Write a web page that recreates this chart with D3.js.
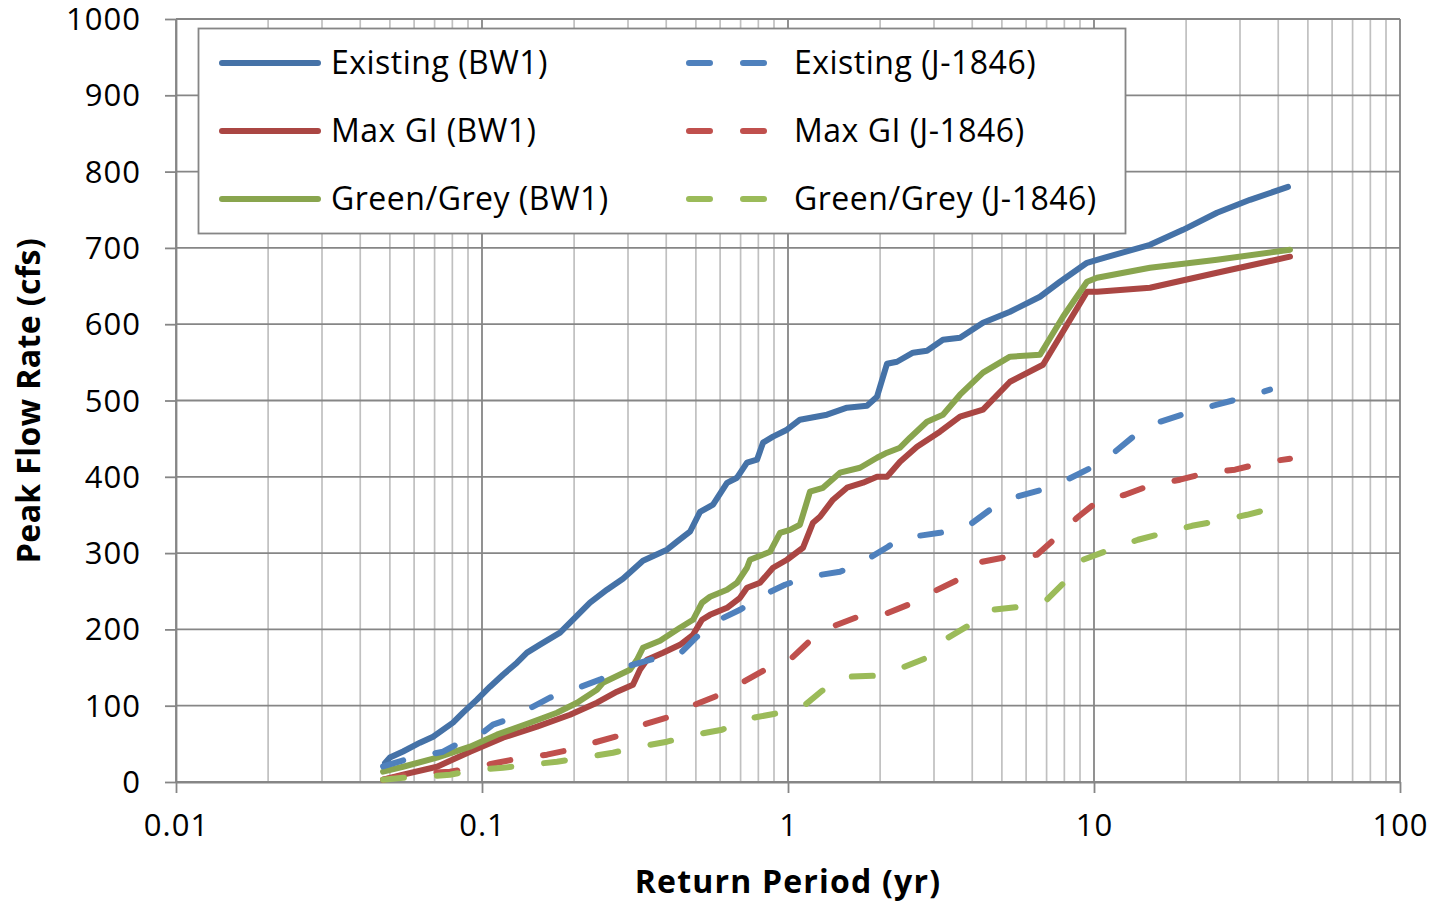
<!DOCTYPE html>
<html>
<head>
<meta charset="utf-8">
<script src="https://cdn.jsdelivr.net/npm/d3@7"></script>
<style>
  html, body { margin: 0; padding: 0; background: #fff; }
  svg { display: block; font-family: "Open Sans", "Noto Sans", sans-serif; }
</style>
</head>
<body>
<svg id="chart" width="1436" height="904"></svg>
<script>
// Peak flow frequency curves: [return period (yr), peak flow (cfs)]
const existingBW1 = [
  [0.0482, 25], [0.050, 32], [0.0552, 40], [0.0627, 51.5], [0.0692, 59.4], [0.0804, 77.8],
  [0.0867, 90.9], [0.0963, 107.9], [0.1062, 124.9], [0.1171, 140.6], [0.1301, 156.4],
  [0.1403, 169.5], [0.1547, 180], [0.1799, 195.7], [0.1984, 212.8], [0.2254, 235],
  [0.2561, 252], [0.2888, 266.5], [0.3357, 290], [0.4024, 304.5], [0.4339, 315],
  [0.4783, 328], [0.5158, 354], [0.5688, 363.4], [0.632, 392], [0.6815, 398.8],
  [0.7345, 418.5], [0.792, 422.4], [0.8285, 444.7], [0.8934, 452.6], [0.9924, 461.7],
  [1.094, 474.8], [1.341, 481.4], [1.559, 490.6], [1.812, 493.2], [1.954, 505],
  [2.107, 548.2], [2.271, 550.8], [2.561, 562.6], [2.846, 565.2], [3.209, 579.6],
  [3.649, 582.3], [4.338, 601.9], [5.315, 616.3], [6.66, 636], [7.743, 655.6],
  [9.487, 680.5], [10.23, 684.4], [15.24, 704.1], [19.54, 723.7], [25.23, 746],
  [32.35, 763], [43.05, 780]
];
const maxGiBW1 = [
  [0.0475, 3], [0.0552, 9.6], [0.0713, 20], [0.0914, 39.7], [0.1171, 58], [0.1513, 72.5],
  [0.194, 88.2], [0.2375, 103.9], [0.2761, 118.3], [0.3114, 127.5], [0.3282, 147.1],
  [0.346, 160.2], [0.3905, 169.4], [0.4437, 179.8], [0.4892, 192.9], [0.5236, 212.6],
  [0.5561, 219.1], [0.632, 228.3], [0.697, 241.4], [0.7345, 254.5], [0.81, 261.1],
  [0.8934, 280.8], [0.9924, 291.3], [1.119, 307], [1.207, 339.8], [1.272, 347.7],
  [1.403, 370], [1.559, 385.7], [1.759, 392.3], [1.954, 400.1], [2.107, 400.1],
  [2.323, 419.8], [2.64, 439.5], [3.137, 459.1], [3.649, 478.8], [4.338, 488],
  [5.315, 524.6], [6.813, 546.9], [9.487, 642.6], [10.23, 642.6], [15.24, 647.8],
  [25.23, 667.5], [43.7, 688.5]
];
const greenGreyBW1 = [
  [0.0475, 13.5], [0.0552, 20], [0.0713, 31.9], [0.0914, 46.3], [0.1119, 62], [0.1435, 77.7],
  [0.1758, 90.8], [0.2045, 103.9], [0.2375, 120.9], [0.2484, 130.1], [0.3045, 147.1],
  [0.3209, 160.2], [0.3357, 175.9], [0.3818, 185.1], [0.4437, 202.2], [0.4892, 212.6],
  [0.5236, 234.9], [0.5561, 242.8], [0.632, 252], [0.6815, 261.1], [0.7345, 280.8],
  [0.7513, 291.3], [0.8734, 301.7], [0.9417, 326.6], [1.015, 330.5], [1.094, 337.2],
  [1.18, 380.5], [1.301, 385.6], [1.479, 405.4], [1.719, 411.9], [1.954, 425],
  [2.107, 431.6], [2.323, 438.1], [2.504, 451.2], [2.846, 472.2], [3.209, 481.4],
  [3.649, 507.6], [4.338, 536.5], [5.315, 557.4], [6.66, 560], [7.92, 609.8],
  [9.487, 655.6], [10.23, 660.9], [15.24, 674], [25.23, 684.5], [43.7, 697.6]
];
const existingJ1846 = [
  [0.0475, 20.4], [0.0595, 32.1], [0.0746, 39.7], [0.0847, 51.5], [0.0985, 62], [0.1086, 75.1],
  [0.1207, 81.6], [0.1403, 94.7], [0.1668, 110.5], [0.1984, 121], [0.2429, 134.1],
  [0.2888, 149.8], [0.354, 160.2], [0.4339, 164.2], [0.5042, 190.4], [0.5688, 208.7],
  [0.697, 225.7], [0.81, 242.8], [0.9777, 258.5], [1.163, 269], [1.479, 275.5],
  [1.759, 288.6], [2.123, 308.3], [2.323, 320.1], [2.542, 321.4], [3.137, 326.6],
  [3.846, 334.5], [4.573, 356.8], [5.436, 372.6], [6.762, 383], [8.163, 396.2],
  [9.925, 413.2], [11.71, 432.9], [13.93, 457.8], [16.44, 472.2], [20.29, 484],
  [25.23, 494.5], [30.69, 503.7], [37.61, 514.2]
];
const maxGiJ1846 = [
  [0.0475, 3], [0.0595, 10.9], [0.0786, 13.5], [0.0935, 18.7], [0.1119, 25.3], [0.1362, 31.8],
  [0.1631, 35.8], [0.194, 42.3], [0.2254, 50.2], [0.2888, 62], [0.3357, 75.1],
  [0.4116, 85.6], [0.4857, 100], [0.5996, 114.5], [0.7077, 130.2], [0.854, 148.5],
  [1.015, 160.3], [1.18, 185.1], [1.393, 203.5], [1.694, 216.6], [2.045, 219.1],
  [2.561, 234.8], [2.978, 249.2], [3.704, 267.6], [4.305, 288.6], [5.236, 295.2],
  [6.511, 297.8], [7.57, 321.4], [8.8, 346.3], [10.23, 367.3], [12.63, 376.5],
  [15.47, 389.6], [19.1, 396.2], [23.4, 405.4], [28.9, 409.3], [35.68, 418.5], [43.7, 423.7]
];
const greenGreyJ1846 = [
  [0.0475, 3], [0.0552, 5.6], [0.0661, 6.9], [0.0786, 9.6], [0.0963, 16.1], [0.1171, 18.7],
  [0.1435, 22.7], [0.1758, 26.6], [0.2138, 31.8], [0.2679, 38.4], [0.3282, 46.3],
  [0.4024, 52.8], [0.4967, 62], [0.6086, 68.5], [0.7401, 82.9], [0.9067, 89.5],
  [1.119, 98.7], [1.292, 119.6], [1.559, 138], [1.925, 139.3], [2.358, 149.8],
  [2.846, 162.9], [3.333, 189.1], [3.934, 206.2], [4.677, 225.8], [5.817, 229.8],
  [7.022, 239], [8.163, 265.2], [9.206, 291.3], [11.28, 304.4], [13.93, 317.5],
  [17.06, 326.6], [20.91, 335.8], [25.81, 342.4], [31.62, 350.2], [39.05, 359.5]
];

const seriesNames = [
  "Existing (BW1)", "Max GI (BW1)", "Green/Grey (BW1)",
  "Existing (J-1846)", "Max GI (J-1846)", "Green/Grey (J-1846)"
];
const seriesData = [existingBW1, maxGiBW1, greenGreyBW1, existingJ1846, maxGiJ1846, greenGreyJ1846];
const seriesColors = ["#4572A7", "#AA4643", "#89A54E", "#4F81BD", "#C0504D", "#9BBB59"];
const seriesDashed = [false, false, false, true, true, true];

const yTicks = [0, 100, 200, 300, 400, 500, 600, 700, 800, 900, 1000];
const xTicks = [0.01, 0.1, 1, 10, 100];
const xTickLabels = ["0.01", "0.1", "1", "10", "100"];
const xTitle = "Return Period (yr)";
const yTitle = "Peak Flow Rate (cfs)";

const svg = d3.select("#chart");
const plot = { left: 176, right: 1400, top: 19, bottom: 782 };

const x = d3.scaleLog().domain([0.01, 100]).range([plot.left, plot.right]);
const y = d3.scaleLinear().domain([0, 1000]).range([plot.bottom, plot.top]);

const majorColor = "#868686";
const minorColor = "#C0C0C0";

// minor vertical gridlines (2..9 within each decade)
const minorX = [];
for (let d = 0.01; d < 100; d *= 10) {
  for (let k = 2; k <= 9; k++) minorX.push(d * k);
}
const grid = svg.append("g");
grid.selectAll(".minor").data(minorX).join("line")
  .attr("x1", d => x(d)).attr("x2", d => x(d))
  .attr("y1", plot.top).attr("y2", plot.bottom)
  .attr("stroke", minorColor).attr("stroke-width", 1.7);

// major gridlines
grid.selectAll(".hmajor").data(yTicks).join("line")
  .attr("x1", plot.left).attr("x2", plot.right)
  .attr("y1", d => y(d)).attr("y2", d => y(d))
  .attr("stroke", majorColor).attr("stroke-width", 1.8);
grid.selectAll(".vmajor").data(xTicks).join("line")
  .attr("x1", d => x(d)).attr("x2", d => x(d))
  .attr("y1", plot.top).attr("y2", plot.bottom)
  .attr("stroke", majorColor).attr("stroke-width", 1.8);

// axes
const yAxis = d3.axisLeft(y).tickValues(yTicks).tickFormat(d3.format("d"))
  .tickSize(11).tickSizeOuter(0).tickPadding(24);
const gy = svg.append("g").attr("transform", `translate(${plot.left},0)`).call(yAxis);
const xAxis = d3.axisBottom(x).tickValues(xTicks).tickFormat((d, i) => xTickLabels[i])
  .tickSize(11).tickSizeOuter(0).tickPadding(21);
const gx = svg.append("g").attr("transform", `translate(0,${plot.bottom})`).call(xAxis);
[gx, gy].forEach(g => {
  g.select(".domain").attr("stroke", majorColor).attr("stroke-width", 1.8);
  g.selectAll(".tick line").attr("stroke", majorColor).attr("stroke-width", 1.8);
  g.selectAll(".tick text").attr("fill", "#000").style("font-size", "31px")
    .style("letter-spacing", "1px")
    .style("font-family", '"Open Sans", sans-serif');
});
gy.selectAll(".tick text").attr("dy", "0.34em");

// series lines
const line = d3.line().x(d => x(d[0])).y(d => y(d[1]));
const lines = svg.append("g");
seriesData.forEach((data, i) => {
  lines.append("path")
    .datum(data)
    .attr("d", line)
    .attr("fill", "none")
    .attr("stroke", seriesColors[i])
    .attr("stroke-width", 6)
    .attr("stroke-linecap", "round")
    .attr("stroke-linejoin", "round")
    .attr("stroke-dasharray", seriesDashed[i] ? "21,33" : null);
});

// axis titles
svg.append("text")
  .attr("x", (plot.left + plot.right) / 2).attr("y", 893)
  .attr("text-anchor", "middle")
  .style("font-size", "32px").style("font-weight", "bold")
  .style("letter-spacing", "1.2px")
  .text(xTitle);
svg.append("text")
  .attr("transform", `translate(40,${(plot.top + plot.bottom) / 2}) rotate(-90)`)
  .attr("text-anchor", "middle")
  .style("font-size", "32px").style("font-weight", "bold")
  .style("letter-spacing", "0.4px")
  .text(yTitle);

// legend
const legend = svg.append("g");
legend.append("rect")
  .attr("x", 198.5).attr("y", 28.5).attr("width", 927).attr("height", 205)
  .attr("fill", "#fff").attr("stroke", majorColor).attr("stroke-width", 1.8);
const rowY = [63, 131, 199];
const colSample = [[222, 318], [689, 769]];
const colText = [331, 794];
seriesNames.forEach((name, i) => {
  const col = Math.floor(i / 3), row = i % 3;
  legend.append("line")
    .attr("x1", colSample[col][0]).attr("x2", colSample[col][1])
    .attr("y1", rowY[row]).attr("y2", rowY[row])
    .attr("stroke", seriesColors[i]).attr("stroke-width", 6)
    .attr("stroke-linecap", "round")
    .attr("stroke-dasharray", seriesDashed[i] ? "21,33" : null);
  legend.append("text")
    .attr("x", colText[col]).attr("y", rowY[row] + 10.5)
    .style("font-size", "32px")
    .style("letter-spacing", "0.5px")
    .text(name);
});
</script>
</body>
</html>
